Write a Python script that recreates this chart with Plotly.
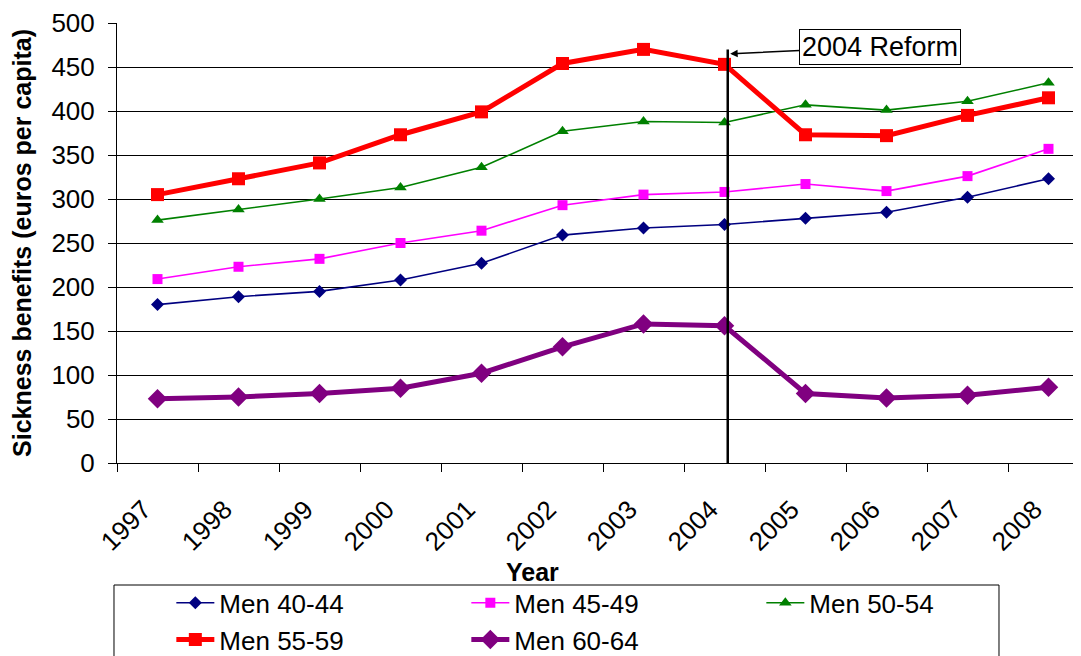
import plotly.graph_objects as go

years = ["1997", "1998", "1999", "2000", "2001", "2002", "2003", "2004", "2005", "2006", "2007", "2008"]
men_40_44 = [180, 189, 195, 208, 227, 259, 267, 271, 278, 285, 302, 323]
men_45_49 = [209, 223, 232, 250, 264, 293, 305, 308, 317, 309, 326, 357]
men_50_54 = [276, 288, 300, 313, 336, 377, 388, 387, 407, 401, 411, 432]
men_55_59 = [305, 323, 341, 373, 399, 454, 470, 453, 373, 372, 395, 415]
men_60_64 = [73, 75, 79, 85, 102, 132, 158, 156, 79, 74, 77, 86]

series = [
    ("Men 40-44", men_40_44, "#000080", "diamond", 10, 1.6),
    ("Men 45-49", men_45_49, "#FF00FF", "square", 10, 1.6),
    ("Men 50-54", men_50_54, "#008000", "triangle-up", 11, 1.6),
    ("Men 55-59", men_55_59, "#FF0000", "square", 13, 5),
    ("Men 60-64", men_60_64, "#800080", "diamond", 15, 5),
]

FONT = "Liberation Sans, Arial, sans-serif"

fig = go.Figure()
for name, vals, color, sym, msize, lw in series:
    fig.add_trace(go.Scatter(
        x=years, y=vals, name=name, mode="lines+markers",
        line=dict(color=color, width=lw),
        marker=dict(symbol=sym, size=msize, color=color),
    ))

reform_x = 7.04
fig.add_shape(type="line", xref="x", yref="y", x0=reform_x, x1=reform_x, y0=0, y1=470,
              line=dict(color="black", width=2.5))
fig.add_annotation(x=7.07, y=465, xref="x", yref="y", text="2004 Reform",
                   showarrow=True, arrowhead=2, arrowsize=1, arrowwidth=1.5, arrowcolor="black",
                   ax=150, ay=-7, axref="pixel", ayref="pixel",
                   font=dict(family=FONT, size=27, color="black"),
                   bordercolor="black", borderwidth=1, borderpad=2, bgcolor="white")
fig.add_annotation(x=0.427, y=-0.247, xref="paper", yref="paper", text="<b>Year</b>",
                   showarrow=False, xanchor="center", yanchor="middle",
                   font=dict(family=FONT, size=25, color="black"))
# legend frame
fig.add_shape(type="rect", xref="paper", yref="paper", x0=-0.0031, x1=0.9074, y0=-0.2773, y1=-0.7,
              line=dict(color="black", width=1), fillcolor="rgba(0,0,0,0)")

fig.update_layout(
    width=1081, height=656,
    margin=dict(l=109, r=0, t=15, b=201),
    paper_bgcolor="white", plot_bgcolor="white",
    font=dict(family=FONT, size=25, color="black"),
    showlegend=True,
    legend=dict(orientation="h", xref="container", yref="container",
                x=0.1511, y=0.129, xanchor="left", yanchor="top",
                entrywidth=242, entrywidthmode="pixels", itemwidth=38,
                bgcolor="rgba(0,0,0,0)", borderwidth=0,
                font=dict(family=FONT, size=26, color="black"), tracegroupgap=0),
    xaxis=dict(type="category", range=[-0.5, 11.5], tickson="boundaries", automargin=False,
               showgrid=False, showline=True, linecolor="black", linewidth=1,
               ticks="outside", ticklen=8, tickcolor="black", tickangle=-45,
               ticklabelshift=-14, ticklabelstandoff=20,
               tickfont=dict(family=FONT, size=26, color="black")),
    yaxis=dict(range=[0, 500], dtick=50, showgrid=True, gridcolor="black", gridwidth=1,
               automargin=False,
               showline=True, linecolor="black", linewidth=1, zeroline=False,
               ticks="outside", ticklen=8, tickcolor="black", ticklabelstandoff=8,
               tickfont=dict(family=FONT, size=26, color="black"),
               title=dict(text="<b>Sickness benefits (euros per capita)</b>", standoff=13,
                          font=dict(family=FONT, size=25, color="black"))),
)

fig.write_html("out.html")
